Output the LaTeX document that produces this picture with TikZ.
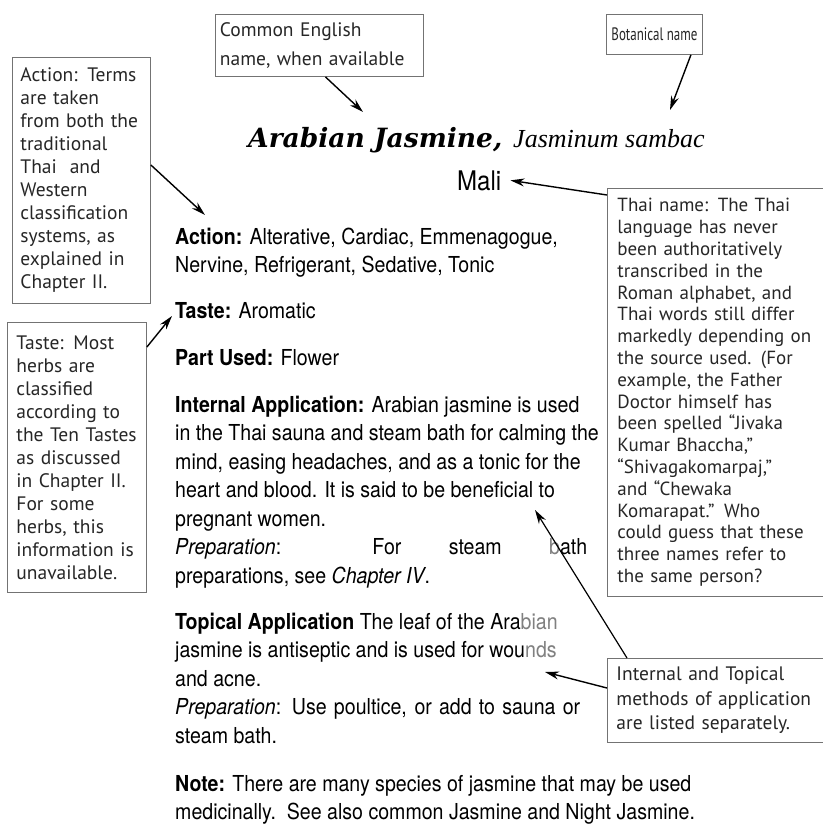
\documentclass[tikz,border=0pt]{standalone}
\usepackage{fontspec}
\setmainfont{TeX Gyre Heros}[FakeStretch=0.89]
\newfontfamily\calloutfont{PT Sans}
\newfontfamily\narrowfont{PT Sans}[FakeStretch=0.72]
\newfontfamily\titlefont{DejaVu Serif}
\newfontfamily\latinfont{Liberation Serif}
\usetikzlibrary{arrows.meta}

\tikzset{
  callout/.style={draw=black!55, line width=0.9pt, fill=white, anchor=north west,
    inner xsep=8.5pt, inner ysep=0pt, align=left, text=black!85,
    font=\calloutfont\fontsize{19.5}{23}\selectfont},
  pointer/.style={-{Stealth[length=14pt,width=8pt]}, line width=1.4pt},
  body/.style={anchor=base west, inner sep=0pt, align=left,
    font=\fontsize{22}{28.5}\selectfont},
}
\newcommand{\faded}[1]{{\color{black!50}#1}}

\begin{document}
\begin{tikzpicture}[x=1pt, y=-1pt]
  \fill[white] (0,0) rectangle (822,827);
  \useasboundingbox (0,0) rectangle (822,827);

  % headword
  \node[anchor=base west, inner sep=0pt] (title) at (248,147)
    {{\titlefont\bfseries\itshape\fontsize{26.5}{30}\selectfont Arabian Jasmine,}\hspace{11pt}%
     {\latinfont\itshape\fontsize{26}{30}\selectfont Jasminum sambac}};
  \node[anchor=base west, inner sep=0pt, font=\fontsize{27}{30}\selectfont] (mali) at (457,190) {Mali};

  % entry text (base = baseline of the last line)
  \node[body] (action) at (175,272.5)
    {\textbf{Action:} Alterative, Cardiac, Emmenagogue,\\
     Nervine, Refrigerant, Sedative, Tonic};
  \node[body] (taste) at (175,318) {\textbf{Taste:} Aromatic};
  \node[body] (part) at (175,365) {\textbf{Part Used:} Flower};
  \node[body] (internal) at (175,583)
    {\textbf{Internal Application:} Arabian jasmine is used\\
     in the Thai sauna and steam bath for calming the\\
     mind, easing headaches, and as a tonic for the\\
     heart and blood. It is said to be beneficial to\\
     pregnant women.\\
     \makebox[412pt][s]{\textit{Preparation}: For steam \faded{b}ath}\\
     preparations, see \textit{Chapter IV}.};
  \node[body] (topical) at (175,743)
    {\textbf{Topical Application} The leaf of the Ara\faded{bian}\\
     jasmine is antiseptic and is used for wou\faded{nds}\\
     and acne.\\
     \makebox[405pt][s]{\textit{Preparation}: Use poultice, or add to sauna or}\\
     steam bath.};
  \node[body] (note) at (175,819.5)
    {\textbf{Note:} There are many species of jasmine that may be used\\
     medicinally.\ \ See also common Jasmine and Night Jasmine.};

  % callouts
  \node[callout, inner xsep=4.5pt, text width=199pt, minimum height=62pt,
    font=\calloutfont\fontsize{19.5}{29}\selectfont]
    (common) at (215,14) {Common English\\name, when available};
  \node[callout, inner xsep=2pt, minimum width=96pt, minimum height=40pt,
    font=\narrowfont\fontsize{18}{20}\selectfont]
    (botanical) at (606,14) {Botanical name};
  \node[callout, inner xsep=8pt, text width=122pt, minimum height=246pt] (actionbox) at (12,57)
    {Action: Terms\\are taken\\from both the\\traditional\\Thai\ \ and\\Western\\
     classification\\systems, as\\explained in\\Chapter II.};
  \node[callout, inner xsep=9pt, text width=121pt, minimum height=270pt] (tastebox) at (7,322)
    {Taste: Most\\herbs are\\classified\\according to\\the Ten Tastes\\as discussed\\
     in Chapter II.\\For some\\herbs, this\\information is\\unavailable.};
  \node[callout, inner xsep=10pt, text width=210pt, minimum height=408pt,
    font=\calloutfont\fontsize{19}{21.8}\selectfont] (thai) at (607,188)
    {Thai name: The Thai\\language has never\\been authoritatively\\transcribed in the\\
     Roman alphabet, and\\Thai words still differ\\markedly depending on\\
     the source used. (For\\example, the Father\\Doctor himself has\\
     been spelled “Jivaka\\Kumar Bhaccha,”\\“Shivagakomarpaj,”\\and “Chewaka\\
     Komarapat.” Who\\could guess that these\\three names refer to\\the same person?};
  \node[callout, inner xsep=9pt, text width=212pt, minimum height=84pt,
    font=\calloutfont\fontsize{19.5}{24.5}\selectfont]
    (methods) at (607,658) {Internal and Topical\\methods of application\\are listed separately.};

  % arrow tips
  \coordinate (commontip) at (363,112);
  \coordinate (botanicaltip) at (670,110);
  \coordinate (actiontip) at (205,215);
  \coordinate (tastetip) at (172,316);
  \coordinate (benefittip) at (535,510);
  \coordinate (woundtip) at (545,672);

  \draw[pointer] ([xshift=6pt]common.south) -- (commontip);
  \draw[pointer] ([xshift=-12pt]botanical.south east) -- (botanicaltip);
  \draw[pointer] ([yshift=-7pt]thai.north west) -- ([xshift=9pt]mali.east);
  \draw[pointer] ([yshift=-108pt]actionbox.north east) -- (actiontip);
  \draw[pointer] ([yshift=-25pt]tastebox.north east) -- (tastetip);
  \draw[pointer, line width=1.2pt] ([xshift=20pt]methods.north west) -- (benefittip);
  \draw[pointer] ([yshift=-30pt]methods.north west) -- (woundtip);
\end{tikzpicture}
\end{document}
